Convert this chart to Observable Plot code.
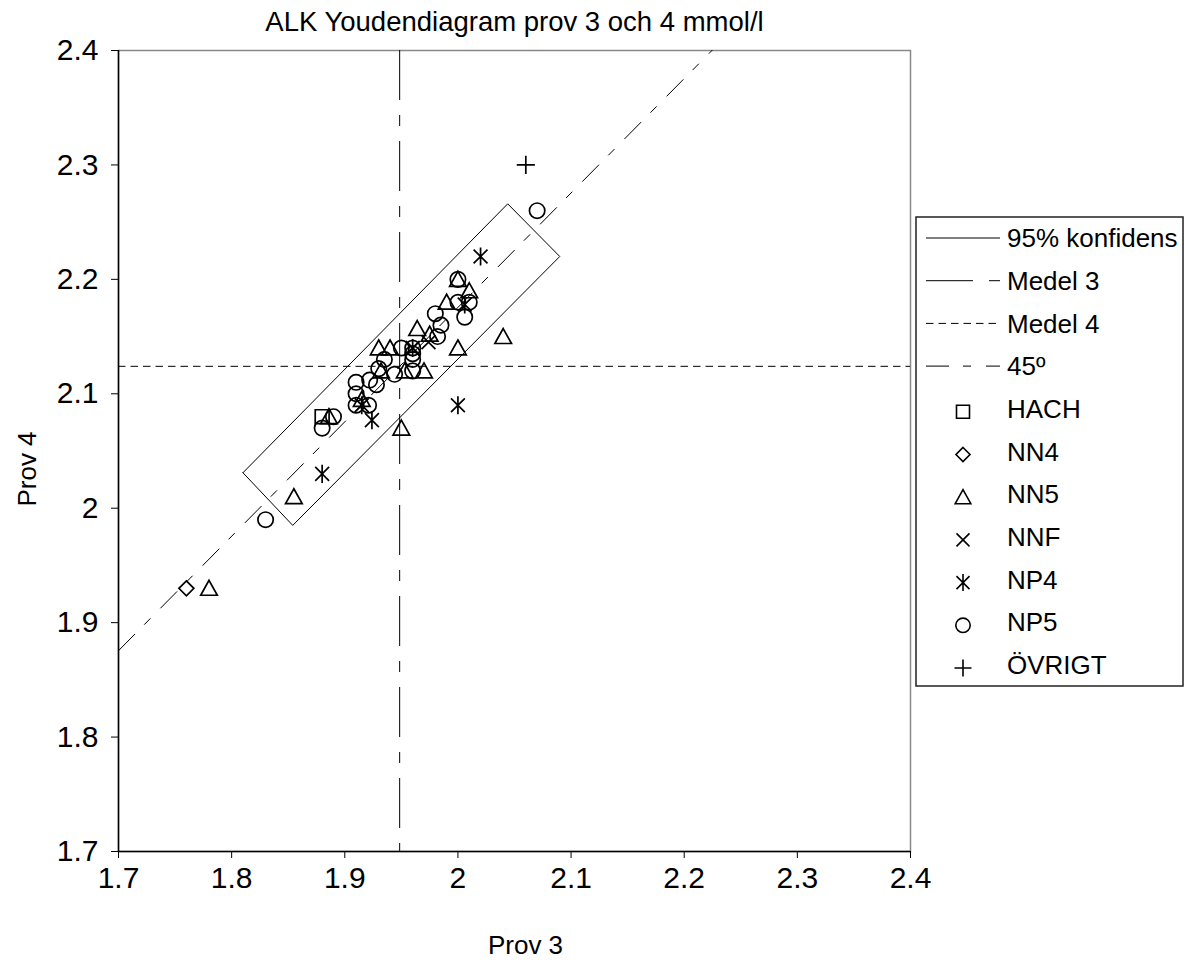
<!DOCTYPE html>
<html><head><meta charset="utf-8">
<script src="https://cdn.jsdelivr.net/npm/d3@7"></script>
<script src="https://cdn.jsdelivr.net/npm/@observablehq/plot@0.6"></script>
<style>
body{margin:0;background:#fff;font-family:"Liberation Sans",Arial,sans-serif;}
#wrap{position:relative;width:1189px;height:965px;}
#legend{position:absolute;left:915px;top:216px;}
</style></head><body><div id="wrap"></div>
<script>
const title = "ALK Youdendiagram prov 3 och 4 mmol/l";
const xLabel = "Prov 3", yLabel = "Prov 4";
const ticks = [1.7, 1.8, 1.9, 2.0, 2.1, 2.2, 2.3, 2.4];
const groups = ["HACH", "NN4", "NN5", "NNF", "NP4", "NP5", "ÖVRIGT"];
const lineNames = ["95% konfidens", "Medel 3", "Medel 4", "45º"];

// values per group: prov 3 (x) and prov 4 (y)
const hach3 = [1.88];
const hach4 = [2.08];
const nn4_3 = [1.76];
const nn4_4 = [1.93];
const nn5_3 = [1.78, 1.855, 1.886, 1.915, 1.93, 1.94, 1.932, 1.953, 1.97, 1.95, 1.964, 1.975, 1.99, 2.00, 2.01, 2.00, 2.04];
const nn5_4 = [1.93, 2.01, 2.08, 2.095, 2.14, 2.14, 2.12, 2.12, 2.12, 2.07, 2.157, 2.152, 2.18, 2.20, 2.19, 2.14, 2.15];
const nnf3 = [1.96, 1.974];
const nnf4 = [2.14, 2.145];
const np4_3 = [2.02, 2.006, 1.96, 1.915, 1.924, 2.00, 1.88];
const np4_4 = [2.22, 2.178, 2.14, 2.09, 2.077, 2.09, 2.03];
const np5_3 = [2.07, 2.00, 2.00, 2.01, 2.006, 1.98, 1.985, 1.982, 1.96, 1.96, 1.95, 1.96, 1.935, 1.96, 1.944, 1.93, 1.91, 1.922, 1.928, 1.91, 1.91, 1.921, 1.89, 1.88, 1.83];
const np5_4 = [2.26, 2.20, 2.18, 2.18, 2.167, 2.17, 2.16, 2.15, 2.14, 2.135, 2.14, 2.13, 2.13, 2.12, 2.117, 2.122, 2.11, 2.112, 2.108, 2.10, 2.09, 2.09, 2.08, 2.07, 1.99];
const ovr3 = [2.06];
const ovr4 = [2.30];

const medel3 = 1.9485;
const medel4 = 2.124;
// 95% confidence rectangle corners (closed)
const conf3 = [1.81, 2.044, 2.09, 1.854, 1.81];
const conf4 = [2.031, 2.266, 2.22, 1.985, 2.031];

const series = {
  "HACH": [hach3, hach4], "NN4": [nn4_3, nn4_4], "NN5": [nn5_3, nn5_4],
  "NNF": [nnf3, nnf4], "NP4": [np4_3, np4_4], "NP5": [np5_3, np5_4], "ÖVRIGT": [ovr3, ovr4]
};
const rows = groups.flatMap(g => series[g][0].map((x, i) => ({g, p3: x, p4: series[g][1][i]})));
const confRows = conf3.map((x, i) => ({p3: x, p4: conf4[i]}));

const R = 8;
function sym(fn) { return {draw(c, size) { fn(c, Math.sqrt(size / Math.PI) / 7.5); }}; }
const shapes = {
  "HACH": sym((c, k) => { const h = 6.5 * k; c.moveTo(-h, -h); c.lineTo(h, -h); c.lineTo(h, h); c.lineTo(-h, h); c.closePath(); }),
  "NN4": sym((c, k) => { const h = 7 * k; c.moveTo(0, -h); c.lineTo(h, 0); c.lineTo(0, h); c.lineTo(-h, 0); c.closePath(); }),
  "NN5": sym((c, k) => { c.moveTo(0, -7.5 * k); c.lineTo(7.8 * k, 6.5 * k); c.lineTo(-7.8 * k, 6.5 * k); c.closePath(); }),
  "NNF": sym((c, k) => { const h = 6.5 * k; c.moveTo(-h, -h); c.lineTo(h, h); c.moveTo(h, -h); c.lineTo(-h, h); }),
  "NP4": sym((c, k) => { const h = 6.5 * k, v = 8.5 * k; c.moveTo(-h, -h); c.lineTo(h, h); c.moveTo(h, -h); c.lineTo(-h, h); c.moveTo(0, -v); c.lineTo(0, v); }),
  "NP5": sym((c, k) => { const r = 7.2 * k; c.moveTo(r, 0); c.arc(0, 0, r, 0, 2 * Math.PI); }),
  "ÖVRIGT": sym((c, k) => { const h = 8.5 * k; c.moveTo(-h, 0); c.lineTo(h, 0); c.moveTo(0, -h); c.lineTo(0, h); })
};
const dashes = ["none", "50,15,11,15", "7.5,5", "23,14,8,15"];
const fmt = d => String(+d.toFixed(1));
const FONT = "'Liberation Sans', Arial, sans-serif";

const chart = Plot.plot({
  width: 1189, height: 965,
  marginLeft: 118, marginRight: 279, marginTop: 50, marginBottom: 114,
  x: {domain: [ticks[0], ticks[ticks.length - 1]]},
  y: {domain: [ticks[0], ticks[ticks.length - 1]]},
  style: {fontFamily: FONT, background: "#fff", color: "#000"},
  marks: [
    Plot.frame({stroke: "#888", strokeWidth: 1.5}),
    Plot.ruleX([ticks[0]], {stroke: "#000", strokeWidth: 1.5}),
    Plot.ruleY([ticks[0]], {stroke: "#000", strokeWidth: 1.5}),
    Plot.axisY({ticks, tickFormat: fmt, tickSize: 7, tickPadding: 13, fontSize: 30, stroke: "#000", label: null}),
    Plot.axisX({ticks, tickFormat: fmt, tickSize: 7, tickPadding: 8, fontSize: 30, stroke: "#000", label: null}),
    Plot.line(confRows, {x: "p3", y: "p4", stroke: "#000", strokeWidth: 1}),
    Plot.ruleX([medel3], {stroke: "#000", strokeWidth: 1, strokeDasharray: dashes[1]}),
    Plot.ruleY([medel4], {stroke: "#000", strokeWidth: 1, strokeDasharray: dashes[2]}),
    Plot.line([ticks[0], ticks[ticks.length - 1]], {x: d => d, y: d => d + medel4 - medel3, clip: true, stroke: "#000", strokeWidth: 1, strokeDasharray: dashes[3]}),
    ...groups.map(g => Plot.dot(rows.filter(d => d.g === g), {x: "p3", y: "p4", symbol: shapes[g], r: R, fill: "none", stroke: "#000", strokeWidth: 1.7})),
    Plot.text([title], {frameAnchor: "top", dy: -39, fontSize: 27.5, fill: "#000"}),
    Plot.text([xLabel], {frameAnchor: "bottom", dx: 11, dy: 102, fontSize: 26, fill: "#000"}),
    Plot.text([yLabel], {frameAnchor: "left", textAnchor: "middle", dx: -91, dy: 18, rotate: -90, fontSize: 26, fill: "#000"})
  ]
});
document.getElementById("wrap").appendChild(chart);

// legend
const LW = 269, LH = 471;
const lg = d3.select("#wrap").append("svg").attr("id", "legend").attr("width", LW).attr("height", LH)
  .style("font-family", FONT);
lg.append("rect").attr("x", 1).attr("y", 1).attr("width", LW - 2).attr("height", LH - 2)
  .attr("fill", "#fff").attr("stroke", "#222").attr("stroke-width", 1.5);
const rowY = i => 22 + i * 42.7;
lineNames.forEach((name, i) => {
  lg.append("line").attr("x1", 11).attr("x2", 85).attr("y1", rowY(i)).attr("y2", rowY(i))
    .attr("stroke", "#000").attr("stroke-width", 1).attr("stroke-dasharray", i === 1 ? "47,16,12,16" : dashes[i]);
  lg.append("text").attr("x", 92).attr("y", rowY(i)).attr("dy", "0.35em").attr("font-size", 26).text(name);
});
groups.forEach((g, j) => {
  const i = j + lineNames.length;
  const p = d3.path();
  shapes[g].draw(p, Math.PI * 7.5 * 7.5);
  lg.append("path").attr("transform", `translate(48,${rowY(i) + 3})`).attr("d", p.toString())
    .attr("fill", "none").attr("stroke", "#000").attr("stroke-width", 1.6);
  lg.append("text").attr("x", 92).attr("y", rowY(i)).attr("dy", "0.35em").attr("font-size", 26).text(g);
});
</script></body></html>
